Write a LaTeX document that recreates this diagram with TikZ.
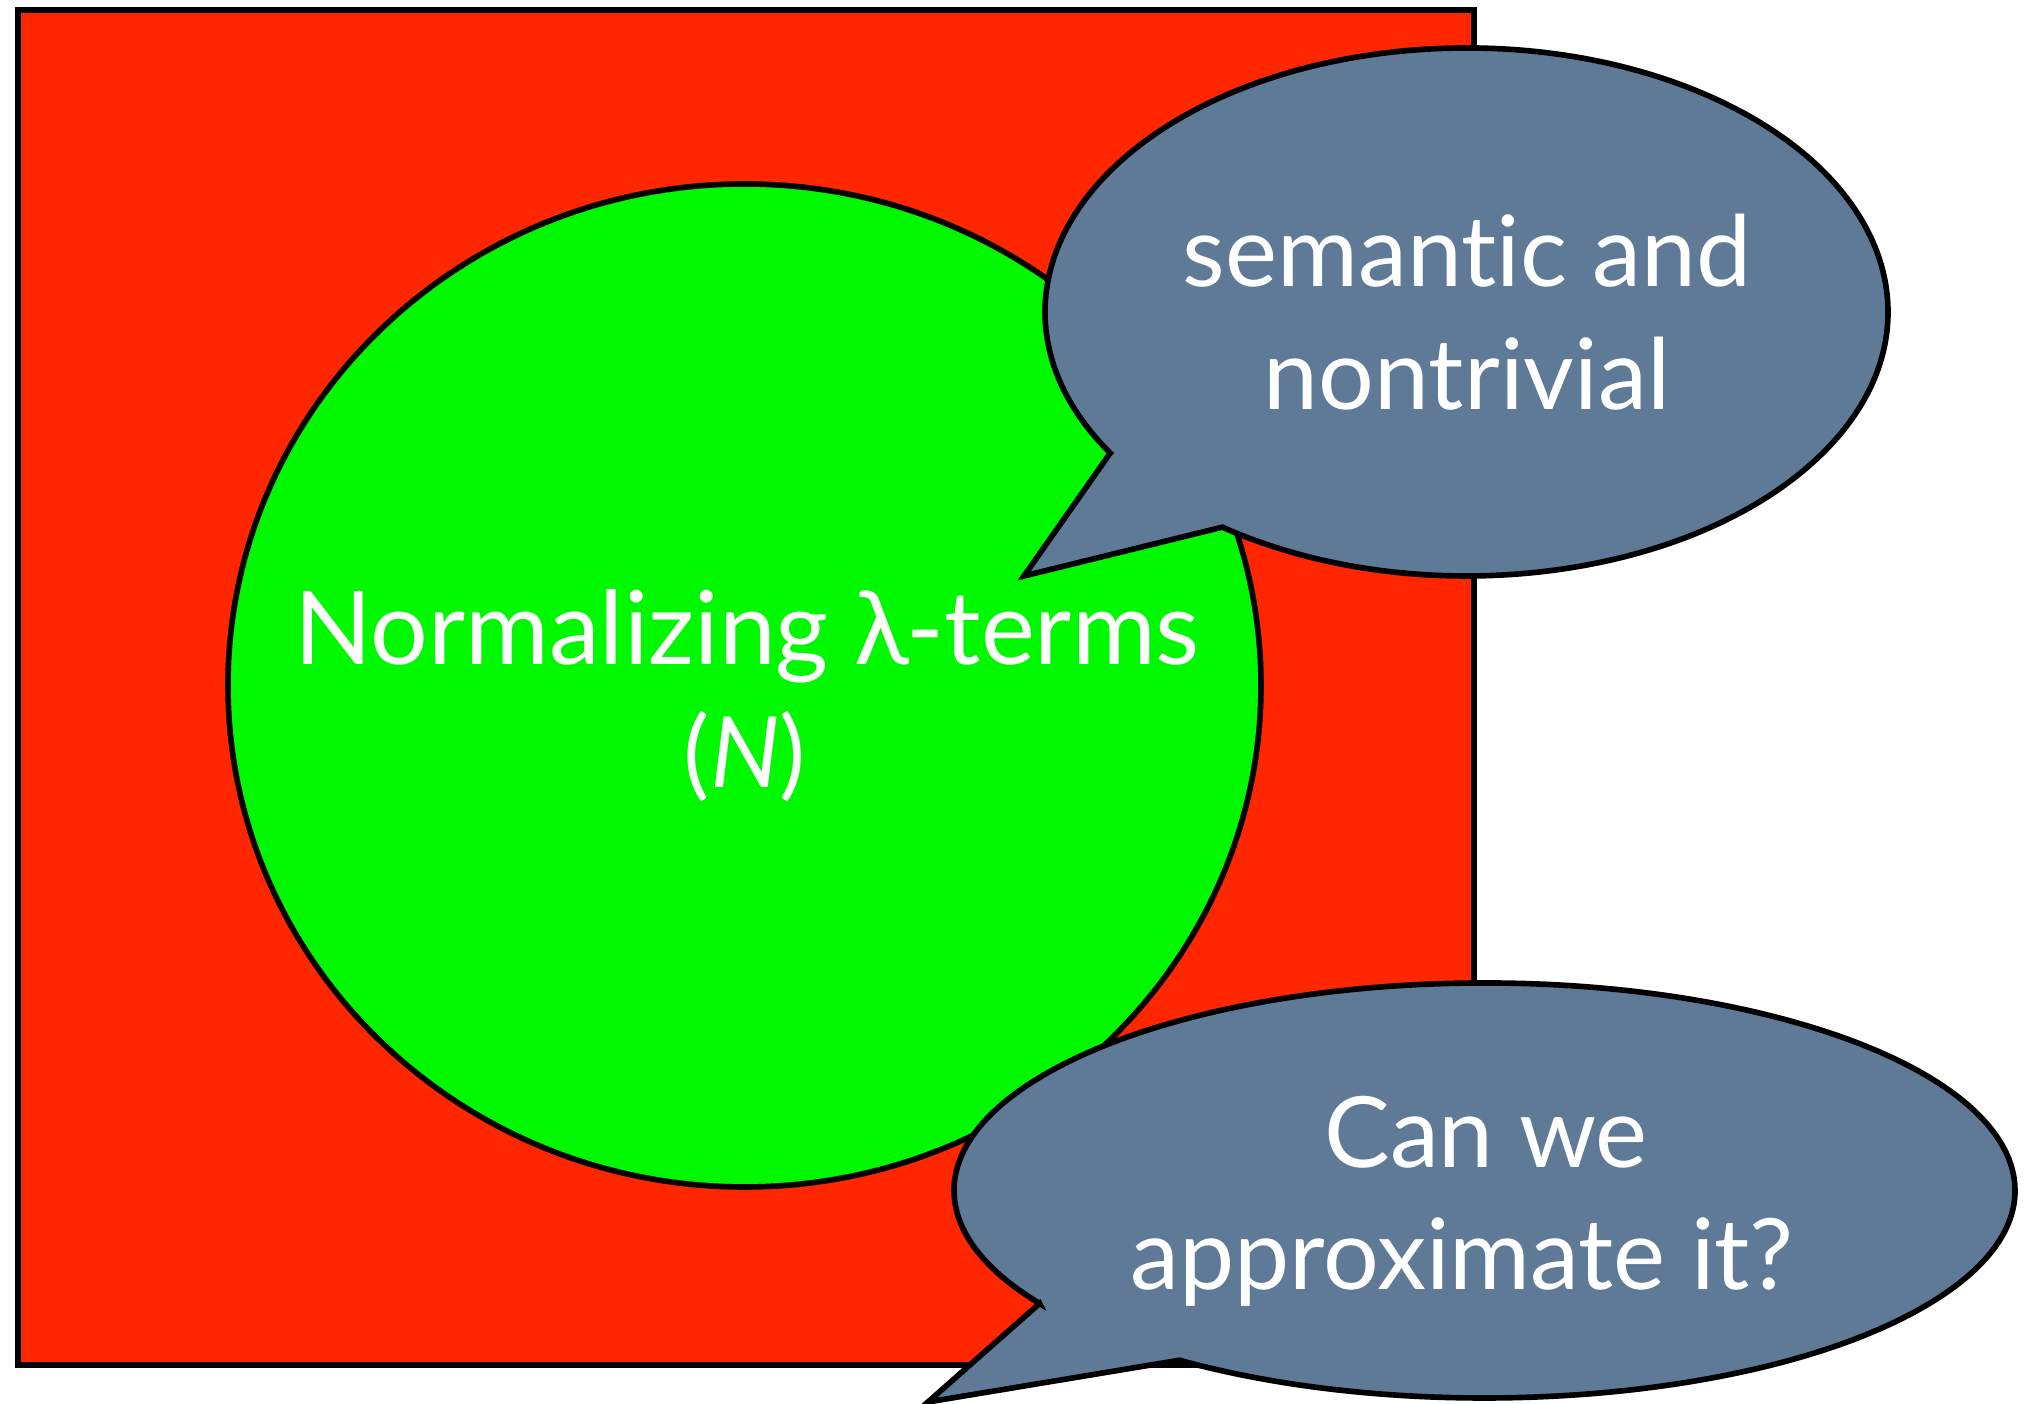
\documentclass[tikz,border=0pt]{standalone}
\usepackage{fontspec}
\setmainfont[Ligatures={NoCommon,NoRare}]{Lato}
\usetikzlibrary{calc}
\definecolor{setred}{RGB}{255,38,0}
\definecolor{setgreen}{RGB}{0,248,0}
\definecolor{bubblefill}{RGB}{95,122,151}
\begin{document}
\begin{tikzpicture}[
  outline/.style={draw=black, line width=1.6pt, line join=miter},
  bubble/.style={outline, fill=bubblefill},
  label/.style={text=white, inner sep=0pt, anchor=base, font=\fontsize{28}{34}\selectfont}
]
\useasboundingbox (0,0) rectangle (20.28,14.04);
% universe of lambda-terms
\draw[outline, fill=setred] (0.18,0.39) rectangle (14.74,13.94);
% normalizing terms
\coordinate (nc) at (7.445,7.185);
\draw[outline, fill=setgreen] (nc) ellipse [x radius=5.165cm, y radius=5.015cm];
\node[label, font=\fontsize{29}{34}\selectfont] (n1) at (7.47,7.39) {Normalizing λ-terms};
\node[label] (n2) at (7.45,6.16) {(\textit{N})};
% top bubble
\coordinate (tc) at (14.665,10.92);
\coordinate (tj) at ($(tc)+({4.215*cos(212.3)},{2.64*sin(212.3)})$);
\coordinate (tt) at (10.24,8.28);
\coordinate (te) at ($(tc)+({4.215*cos(234.6)},{2.64*sin(234.6)})$);
\draw[bubble] (tj) -- (tt) -- (te) arc[start angle=234.6, end angle=572.3, x radius=4.215cm, y radius=2.64cm] -- cycle;
\node[label] (s1) at (14.67,11.17) {semantic and};
\node[label] (s2) at (14.67,9.94) {nontrivial};
% bottom bubble
\coordinate (bc) at (14.845,2.135);
\coordinate (bj) at ($(bc)+({5.305*cos(213.0)},{2.075*sin(213.0)})$);
\coordinate (bt) at (9.28,0.02);
\coordinate (be) at ($(bc)+({5.305*cos(234.9)},{2.075*sin(234.9)})$);
\draw[bubble] (bj) -- (bt) -- (be) arc[start angle=234.9, end angle=573.0, x radius=5.305cm, y radius=2.075cm] -- cycle;
\node[label] (c1) at (14.86,2.36) {Can we};
\node[label] (c2) at (14.62,1.14) {approximate it?};
\end{tikzpicture}
\end{document}
